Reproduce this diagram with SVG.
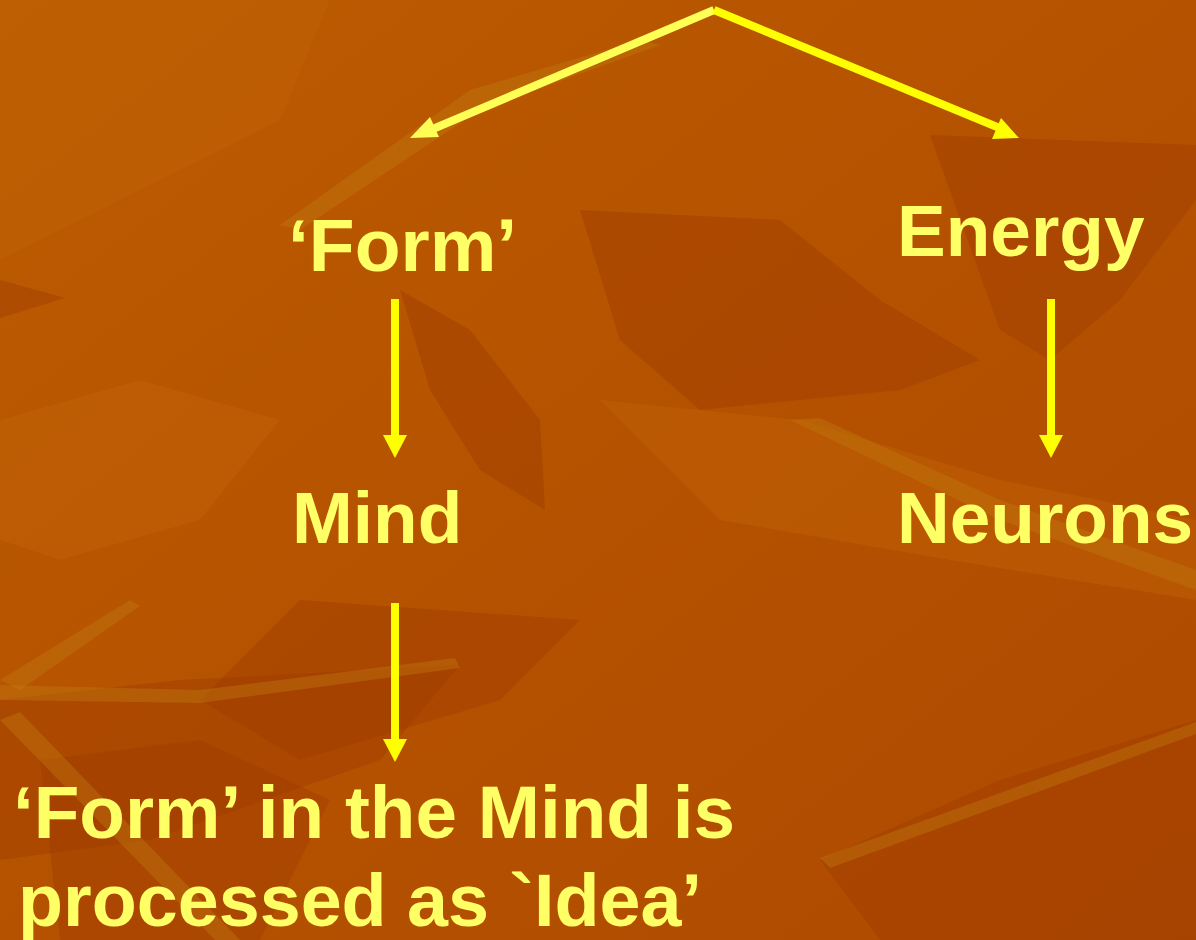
<svg xmlns="http://www.w3.org/2000/svg" width="1196" height="940" viewBox="0 0 1196 940">
<defs>
<style>
.lbl{font-family:"Liberation Sans",Arial,sans-serif;font-weight:bold;fill:#FFFF66;font-size:73px}
.cond{font-family:"Liberation Sans",Arial,sans-serif;font-weight:bold;fill:#FFFF66;font-size:75px}
.dk{fill:#A03C00;opacity:0.45}
.lt{fill:#C46408;opacity:0.4}
.tan{fill:#C07A10;opacity:0.4}
.shaft{stroke:#FFFF00;stroke-width:8;fill:none}
</style>
<linearGradient id="bg" x1="0" y1="0" x2="1" y2="1">
<stop offset="0" stop-color="#BC5C00"/>
<stop offset="0.5" stop-color="#B55200"/>
<stop offset="1" stop-color="#AE4A00"/>
</linearGradient>
</defs>
<g id="background">
<rect width="1196" height="940" fill="url(#bg)"/>
<polygon class="lt" points="0,0 330,0 280,120 120,200 0,260"/>
<polygon class="dk" points="0,280 65,298 0,318"/>
<polygon class="dk" points="580,210 780,220 880,300 980,360 900,390 700,410 620,340"/>
<polygon class="dk" points="930,135 1196,145 1196,200 1120,300 1050,360 1000,330"/>
<polygon class="dk" points="400,290 470,330 540,420 545,510 480,470 430,390"/>
<polygon class="dk" points="300,600 580,620 500,700 300,760 200,700"/>
<polygon class="dk" points="0,700 180,680 460,665 380,760 150,840 0,860"/>
<polygon class="dk" points="820,860 1000,780 1196,720 1196,940 880,940"/>
<polygon class="dk" points="40,760 200,740 330,800 260,940 60,940"/>
<polygon class="lt" points="600,400 800,420 1000,480 1196,520 1196,600 950,560 720,520"/>
<polygon class="lt" points="0,420 140,380 280,420 200,520 60,560 0,540"/>
<polygon class="tan" points="0,685 200,690 455,658 460,668 200,703 0,700"/>
<polygon class="tan" points="0,720 20,712 240,940 215,940"/>
<polygon class="tan" points="790,420 820,418 1000,500 1196,570 1196,590 1000,520"/>
<polygon class="tan" points="0,680 130,600 140,606 20,690"/>
<polygon class="tan" points="470,90 640,40 660,45 480,110 300,230 280,225"/>
<polygon class="tan" points="820,858 1196,722 1196,734 830,868"/>
</g>
<g id="connectors">
<g id="c-top-left">
<line x1="714" y1="10" x2="428" y2="131" stroke="#FFFF55" stroke-width="8"/>
<polygon points="410,138 430,117 439,137" fill="#FFFF55"/>
</g>
<g id="c-top-right">
<line x1="714" y1="10" x2="1002" y2="129" stroke="#FFFF00" stroke-width="8"/>
<polygon points="1019,138 992,139 1001,118" fill="#FFFF00"/>
</g>
<g id="c-form-mind">
<line class="shaft" x1="395" y1="299" x2="395" y2="437"/>
<polygon points="383,435 407,435 395,458" fill="#FFFF00"/>
</g>
<g id="c-energy-neurons">
<line class="shaft" x1="1051" y1="299" x2="1051" y2="437"/>
<polygon points="1039,435 1063,435 1051,458" fill="#FFFF00"/>
</g>
<g id="c-mind-idea">
<line class="shaft" x1="395" y1="603" x2="395" y2="741"/>
<polygon points="383,739 407,739 395,762" fill="#FFFF00"/>
</g>
</g>
<g id="n-form"><text class="lbl" x="288" y="271" style="font-size:75px">‘Form’</text></g>
<g id="n-energy"><text class="lbl" x="897" y="256">Energy</text></g>
<g id="n-mind"><text class="lbl" x="292" y="543">Mind</text></g>
<g id="n-neurons"><text class="lbl" x="897" y="543">Neurons</text></g>
<g id="n-idea">
<text class="cond" x="13" y="838" textLength="722" lengthAdjust="spacingAndGlyphs">‘Form’ in the Mind is</text>
<text class="cond" x="18" y="926" textLength="684" lengthAdjust="spacingAndGlyphs">processed as `Idea’</text>
</g>
</svg>
